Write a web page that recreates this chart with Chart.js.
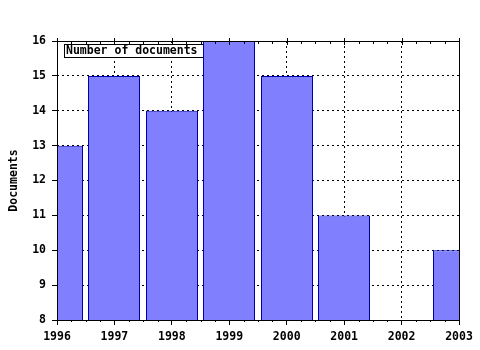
<!DOCTYPE html>
<html>
<head>
<meta charset="utf-8">
<script src="https://cdn.jsdelivr.net/npm/chart.js@4.4.0/dist/chart.umd.min.js"></script>
<style>
  html, body { margin: 0; padding: 0; background: #fff; }
  #wrap { width: 480px; height: 350px; }
</style>
</head>
<body>
<div id="wrap"><canvas id="grafico" width="480" height="350"></canvas></div>
<script>
// datos del gráfico
const years = ['1996', '1997', '1998', '1999', '2000', '2001', '2002', '2003'];
const documents = [13, 15, 14, 16, 15, 11, null, 10];
const yTicks = [8, 9, 10, 11, 12, 13, 14, 15, 16];
const seriesLabel = 'Number of documents';
const yTitle = 'Documents';

const fuente = { family: 'DejaVu Sans Mono', size: 11.5, weight: 'bold' };

// marco, ticks menores y caja de leyenda
const marcoPlugin = {
  id: 'marco',
  afterDatasetsUpdate(chart) {
    // ajustar barras a pixel entero para bordes nitidos
    chart.getDatasetMeta(0).data.forEach(el => { el.x = Math.round(el.x); });
  },
  beforeDatasetsDraw(chart) {
    const a = chart.chartArea;
    const ctx = chart.ctx;
    ctx.save();
    // caja de leyenda (debajo de las barras)
    ctx.font = 'bold 11.5px "DejaVu Sans Mono"';
    const texto = chart.data.datasets[0].label;
    const w = ctx.measureText(texto).width;
    const bx = Math.round(a.left) + 7, by = Math.round(a.top) + 3;
    ctx.fillStyle = '#fff';
    ctx.fillRect(bx, by, w + 9, 13);
    ctx.strokeStyle = '#000';
    ctx.lineWidth = 1;
    ctx.strokeRect(bx + 0.5, by + 0.5, Math.round(w + 9), 13);
    ctx.fillStyle = '#000';
    ctx.textBaseline = 'middle';
    ctx.fillText(texto, bx + 2, by + 7.5);
    ctx.restore();
  },
  afterDatasetsDraw(chart) {
    const a = chart.chartArea;
    const ctx = chart.ctx;
    const x = chart.scales.x;
    ctx.save();
    ctx.strokeStyle = '#000';
    ctx.lineWidth = 1;
    ctx.strokeRect(Math.round(a.left) + 0.5, Math.round(a.top) + 0.5,
      Math.round(a.right - a.left), Math.round(a.bottom - a.top));
    ctx.beginPath();
    for (let i = 0; i < years.length - 1; i++) {
      for (let q = 1; q < 4; q++) {
        const px = Math.round(x.getPixelForValue(i + q / 4)) + 0.5;
        ctx.moveTo(px, a.top);
        ctx.lineTo(px, a.top + 3);
        ctx.moveTo(px, a.bottom);
        ctx.lineTo(px, a.bottom + 2);
      }
    }
    for (let i = 0; i < years.length; i++) {
      const px = Math.round(x.getPixelForValue(i)) + 0.5;
      ctx.moveTo(px, a.top - 3);
      ctx.lineTo(px, a.top + 4);
    }
    ctx.stroke();
    ctx.restore();
  }
};

const ctx = document.getElementById('grafico').getContext('2d');
const grafico = new Chart(ctx, {
  type: 'bar',
  data: {
    labels: years,
    datasets: [{
      label: seriesLabel,
      data: documents,
      backgroundColor: '#8080ff',
      borderColor: '#0000a8',
      borderWidth: 1,
      borderSkipped: false,
      inflateAmount: 0,
      barThickness: 52
    }]
  },
  options: {
    responsive: false,
    animation: false,
    layout: { padding: { left: 0, top: 41, right: 21, bottom: 0 } },
    plugins: {
      legend: { display: false },
      tooltip: { enabled: false }
    },
    scales: {
      x: {
        offset: false,
        grid: {
          offset: false,
          color: '#000',
          tickLength: 5,
          tickBorderDash: [],
          tickColor: '#000'
        },
        border: { display: false, dash: [2, 3] },
        ticks: { color: '#000', font: fuente, padding: 5, maxRotation: 0 },
        afterFit(scale) { scale.height = 30; }
      },
      y: {
        min: 8,
        max: 16,
        afterBuildTicks(scale) {
          scale.ticks = yTicks.map(v => ({ value: v }));
        },
        grid: {
          color: '#000',
          tickLength: 5,
          tickBorderDash: [],
          tickColor: '#000'
        },
        border: { display: false, dash: [2, 3] },
        ticks: { color: '#000', font: fuente, padding: 6 },
        title: {
          display: true,
          text: yTitle,
          color: '#000',
          font: fuente,
          padding: { top: 7, bottom: 0 }
        },
        afterFit(scale) { scale.width = 57; }
      }
    }
  },
  plugins: [marcoPlugin]
});
</script>
</body>
</html>
